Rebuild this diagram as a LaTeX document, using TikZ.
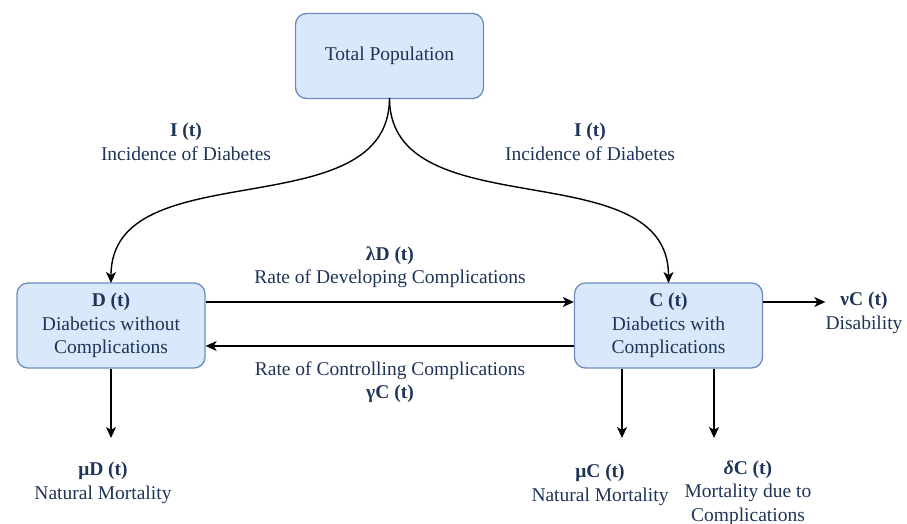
\documentclass[tikz,border=0pt]{standalone}
\usepackage{fontspec}
\setmainfont{Liberation Serif}
\usetikzlibrary{arrows.meta}
\definecolor{txt}{RGB}{30,52,88}
\definecolor{boxfill}{HTML}{DAE8FC}
\definecolor{boxdraw}{HTML}{6C8EBF}
\tikzset{
  box/.style={draw=boxdraw, fill=boxfill, line width=1.3pt, rounded corners=11pt,
    minimum width=188pt, minimum height=85pt, align=center, text=txt,
    font=\fontsize{19.5}{23.5}\selectfont},
  lbl/.style={align=center, text=txt, font=\fontsize{19.5}{23.5}\selectfont, inner sep=0pt},
  arr/.style={draw=black, line width=1.4pt, -{Stealth[length=11pt,width=10pt,inset=3pt]}}
}
\begin{document}
\begin{tikzpicture}[x=1pt,y=-1pt]
\useasboundingbox (0,0) rectangle (907,524);
\node[box] (tp) at (389.5,56) {Total Population};
\node[box] (d) at (111,325.5) {\textbf{D (t)}\\Diabetics without\\Complications};
\node[box] (c) at (668.5,325.5) {\textbf{C (t)}\\Diabetics with\\Complications};

\coordinate (tpb) at (389.5,98);
\coordinate (dtop) at (111,283);
\coordinate (ctop) at (668.5,283);
\draw[arr] (tpb) .. controls (389.5,230) and (111,150) .. (dtop);
\draw[arr] (tpb) .. controls (389.5,230) and (668.5,150) .. (ctop);

\node[lbl] (il) at (186,142) {\textbf{I (t)}\\Incidence of Diabetes};
\node[lbl] (ir) at (590,142) {\textbf{I (t)}\\Incidence of Diabetes};

\draw[arr] (d.east |- 0,302) -- (c.west |- 0,302);
\draw[arr] (c.west |- 0,346) -- (d.east |- 0,346);
\node[lbl] (lam) at (390,267) {\textbf{λD (t)}\\Rate of Developing Complications};
\node[lbl] (gam) at (390,382) {Rate of Controlling Complications\\\textbf{γC (t)}};

\node[lbl] (dis) at (864,313) {\textbf{νC (t)}\\Disability};
\draw[arr] (c.east |- 0,302) -- (dis.west |- 0,302);

\coordinate (dd) at (111,438);
\coordinate (cd1) at (622,438);
\coordinate (cd2) at (714,438);
\draw[arr] (d.south) -- (dd);
\draw[arr] (c.south -| cd1) -- (cd1);
\draw[arr] (c.south -| cd2) -- (cd2);

\node[lbl] (mud) at (103,483) {\textbf{μD (t)}\\Natural Mortality};
\node[lbl] (muc) at (600,485) {\textbf{μC (t)}\\Natural Mortality};
\node[lbl] (del) at (748,493) {\textbf{\textit{δ}C (t)}\\Mortality due to\\Complications};
\end{tikzpicture}
\end{document}
